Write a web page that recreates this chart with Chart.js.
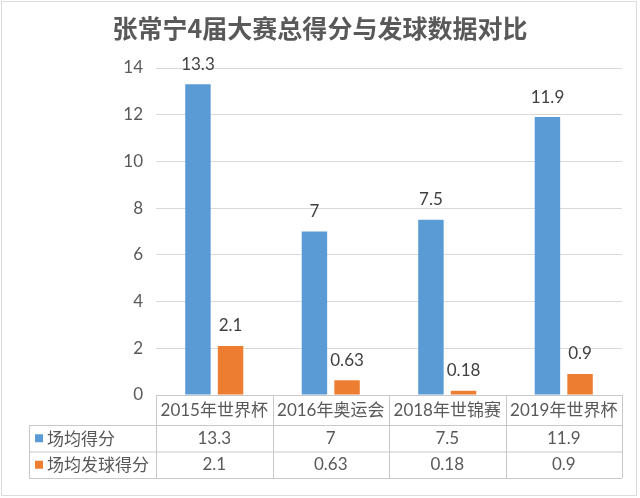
<!DOCTYPE html>
<html>
<head>
<meta charset="utf-8">
<script src="https://cdn.jsdelivr.net/npm/chart.js@4"></script>
<style>
  html, body { margin: 0; padding: 0; background: #fff; }
  #wrap { width: 640px; height: 498px; }
</style>
</head>
<body>
<div id="wrap"><canvas id="chart" width="640" height="498"></canvas></div>
<script>
const titleText = '张常宁4届大赛总得分与发球数据对比';
const categories = ['2015年世界杯', '2016年奥运会', '2018年世锦赛', '2019年世界杯'];
const seriesNames = ['场均得分', '场均发球得分'];
const avgScore = [13.3, 7, 7.5, 11.9];
const serveScore = [2.1, 0.63, 0.18, 0.9];
const colors = ['#5b9bd5', '#ed7d31'];

const numFont = "Lato, 'Noto Sans CJK SC', sans-serif";
const cjkFont = "'Noto Sans CJK SC', Lato, sans-serif";

// value labels above each bar
const barLabels = {
    id: 'barLabels',
    afterDatasetsDraw(chart) {
        const ctx = chart.ctx;
        ctx.save();
        ctx.font = '17px ' + numFont;
        ctx.fillStyle = '#404040';
        ctx.textAlign = 'center';
        ctx.textBaseline = 'middle';
        chart.data.datasets.forEach((ds, i) => {
            chart.getDatasetMeta(i).data.forEach((bar, j) => {
                ctx.fillText(String(ds.data[j]), bar.x, bar.y - 20);
            });
        });
        ctx.restore();
    }
};

// title, frame and the data table under the plot
const tableAndTitle = {
    id: 'tableAndTitle',
    afterDraw(chart) {
        const ctx = chart.ctx;
        const area = chart.chartArea;
        const x = chart.scales.x;
        ctx.save();

        // frame
        ctx.strokeStyle = '#dcdcdc';
        ctx.lineWidth = 1;
        ctx.strokeRect(1.5, 1.5, 635, 494);

        // title
        ctx.font = 'bold 25px ' + cjkFont;
        ctx.fillStyle = '#595959';
        ctx.textAlign = 'center';
        ctx.textBaseline = 'middle';
        ctx.fillText(titleText, 320, 28);

        const left = area.left, right = area.right;
        const colW = (right - left) / categories.length;
        const tableLeft = 29;
        const rowY = [area.bottom, 425, 451.5, 478];

        ctx.strokeStyle = '#c8c8c8';
        ctx.beginPath();
        // horizontal lines
        ctx.moveTo(left, rowY[0] + 0.5); ctx.lineTo(right, rowY[0] + 0.5);
        for (let r = 1; r < rowY.length; r++) {
            ctx.moveTo(tableLeft, rowY[r] + 0.5); ctx.lineTo(right, rowY[r] + 0.5);
        }
        // vertical lines
        for (let c = 0; c <= categories.length; c++) {
            const vx = Math.round(left + c * colW) + 0.5;
            ctx.moveTo(vx, rowY[0]); ctx.lineTo(vx, rowY[3]);
        }
        ctx.moveTo(tableLeft + 0.5, rowY[1]); ctx.lineTo(tableLeft + 0.5, rowY[3]);
        ctx.stroke();

        ctx.fillStyle = '#595959';
        ctx.textAlign = 'center';
        ctx.textBaseline = 'middle';
        ctx.font = '17px ' + numFont;
        categories.forEach((cat, i) => {
            ctx.fillText(cat, x.getPixelForValue(i), (rowY[0] + rowY[1]) / 2 + 1);
        });
        const rows = [avgScore, serveScore];
        rows.forEach((vals, r) => {
            const cy = (rowY[r + 1] + rowY[r + 2]) / 2;
            vals.forEach((v, i) => {
                ctx.fillText(String(v), x.getPixelForValue(i), cy);
            });
            // legend key + series name
            ctx.fillStyle = colors[r];
            ctx.fillRect(35, cy - 4, 8, 8);
            ctx.fillStyle = '#595959';
            ctx.textAlign = 'left';
            ctx.font = '17px ' + cjkFont;
            ctx.fillText(seriesNames[r], 47, cy);
            ctx.textAlign = 'center';
            ctx.font = '17px ' + numFont;
        });
        ctx.restore();
    }
};

const ctx = document.getElementById('chart').getContext('2d');
const chart = new Chart(ctx, {
    type: 'bar',
    data: {
        labels: categories,
        datasets: [{
            label: seriesNames[0],
            data: avgScore,
            backgroundColor: colors[0],
            categoryPercentage: 0.56,
            barPercentage: 0.78
        }, {
            label: seriesNames[1],
            data: serveScore,
            backgroundColor: colors[1],
            categoryPercentage: 0.56,
            barPercentage: 0.78
        }]
    },
    options: {
        responsive: false,
        animation: false,
        layout: { padding: { top: 68, right: 18, bottom: 103, left: 0 } },
        plugins: {
            legend: { display: false },
            title: { display: false },
            tooltip: { enabled: false }
        },
        scales: {
            x: { display: false },
            y: {
                min: 0,
                max: 14,
                ticks: {
                    stepSize: 2,
                    padding: 13,
                    color: '#595959',
                    font: { family: numFont, size: 17 }
                },
                grid: { color: '#d9d9d9', drawTicks: false },
                border: { display: false },
                afterFit(scale) { scale.width = 156; }
            }
        }
    },
    plugins: [barLabels, tableAndTitle]
});
</script>
</body>
</html>
